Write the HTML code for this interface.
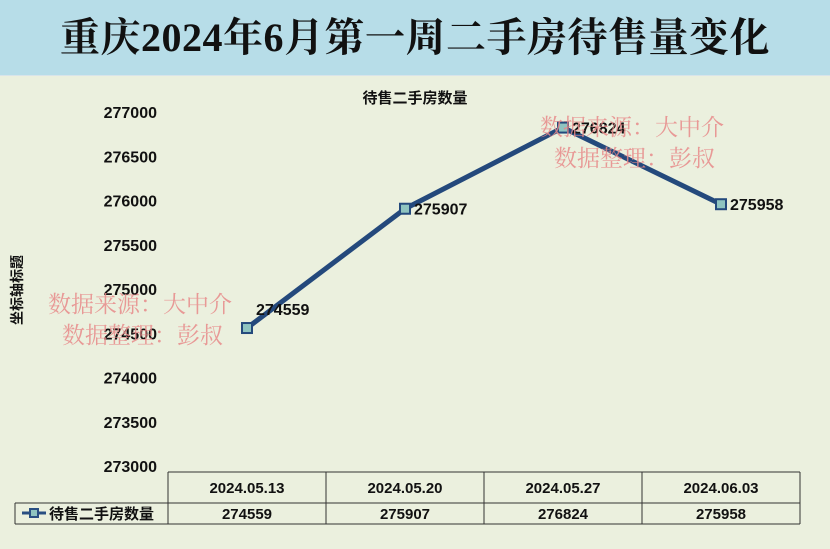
<!DOCTYPE html>
<html><head><meta charset="utf-8">
<style>
body{margin:0;width:830px;height:549px;overflow:hidden;background:#ebf0de;font-family:"Liberation Sans","Noto Sans CJK SC",sans-serif;}
#banner{position:absolute;left:0;top:0;width:830px;height:75px;background:#b7dde8;border-bottom:1px solid #d8e4ea;}
#title{position:absolute;left:0;top:0;width:830px;height:75px;line-height:75px;text-align:center;font-family:"Liberation Serif","Noto Serif CJK SC",serif;font-weight:bold;font-size:40px;color:#111;letter-spacing:0.5px;}
svg{position:absolute;left:0;top:0;}
</style></head><body>
<div id="banner"></div>
<div id="title">重庆2024年6月第一周二手房待售量变化</div>
<svg id="chart" width="830" height="549"></svg>
<script>
const categories=["2024.05.13","2024.05.20","2024.05.27","2024.06.03"];
const seriesValues=[274559,275907,276824,275958];
const yTicks=[273000,273500,274000,274500,275000,275500,276000,276500,277000];
const seriesName="待售二手房数量";
const NS="http://www.w3.org/2000/svg";
const svg=document.getElementById('chart');
const x0=168,x1=800,yMin=273000,yMax=277000,yTop=112,yBot=466;
const bw=(x1-x0)/categories.length;
function xs(i){return x0+bw*(i+0.5);}
function ys(v){return yBot-(v-yMin)/(yMax-yMin)*(yBot-yTop);}
function mk(t,a,p){const e=document.createElementNS(NS,t);for(const k in a)e.setAttribute(k,a[k]);(p||svg).appendChild(e);return e;}
function txt(x,y,s,a){const e=mk('text',Object.assign({x:x,y:y},a));e.textContent=s;return e;}
let t=txt(415,103,"待售二手房数量",{'font-size':15,'font-weight':'bold','text-anchor':'middle',fill:'#111'});


t=txt(22,290,"坐标轴标题",{'font-size':14,'font-weight':'bold','text-anchor':'middle',fill:'#111',transform:'rotate(-90 22 290)'});


yTicks.forEach(v=>{const e=txt(157,ys(v)+6,String(v),{'font-size':16,'font-weight':'bold','text-anchor':'end',fill:'#111'});

});
const g=mk('g',{stroke:'#333','stroke-width':1,fill:'none'});


mk('line',{x1:x0,y1:472,x2:x1,y2:472},g);
mk('line',{x1:15,y1:503,x2:x1,y2:503},g);
mk('line',{x1:15,y1:524,x2:x1,y2:524},g);
mk('line',{x1:15,y1:503,x2:15,y2:524},g);
for(let i=0;i<=categories.length;i++)mk('line',{x1:x0+bw*i,y1:472,x2:x0+bw*i,y2:524},g);
categories.forEach((c,i)=>{const e=txt(xs(i),493,c,{'font-size':15,'font-weight':'bold','text-anchor':'middle',fill:'#111'});


const d=txt(xs(i),519,String(seriesValues[i]),{'font-size':15,'font-weight':'bold','text-anchor':'middle',fill:'#111'});

});
mk('line',{x1:22,y1:513,x2:46,y2:513,stroke:'#2a4f82','stroke-width':3});
mk('rect',{x:30,y:509,width:8,height:8,fill:'#8fc4c0',stroke:'#2a4f82','stroke-width':2});
t=txt(49,519,seriesName,{'font-size':15,'font-weight':'bold',fill:'#111'});


const pts=seriesValues.map((v,i)=>xs(i)+','+ys(v)).join(' ');
const pl=mk('polyline',{points:pts,fill:'none',stroke:'#24497c','stroke-width':5,'stroke-linejoin':'round'});


seriesValues.forEach((v,i)=>{const r=mk('rect',{x:xs(i)-5,y:ys(v)-5,width:10,height:10,fill:'#8fc4c0',stroke:'#24497c','stroke-width':2});


const l=txt(xs(i)+9,ys(v)+(i==0?-13:6),String(v),{'font-size':16,'font-weight':'bold',fill:'#111'});

});
[[48,312],[540,135]].forEach(p=>{
const a=txt(p[0],p[1],"数据来源：大中介",{'font-size':23,fill:'#e88a8a','fill-opacity':0.85,'font-family':'"Liberation Serif","Noto Serif CJK SC",serif'});


const b=txt(p[0]+14,p[1]+31,"数据整理：彭叔",{'font-size':23,fill:'#e88a8a','fill-opacity':0.85,'font-family':'"Liberation Serif","Noto Serif CJK SC",serif'});

});
</script>
</body></html>
